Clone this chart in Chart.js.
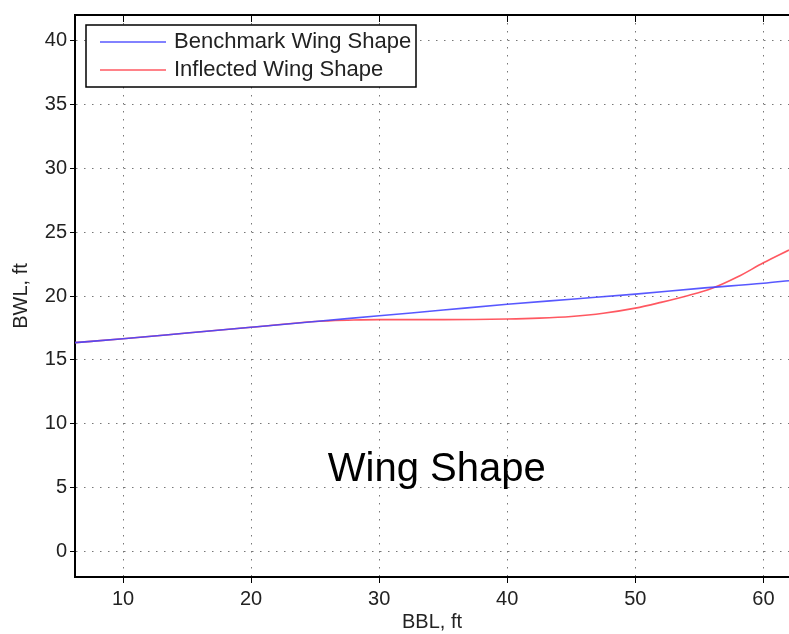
<!DOCTYPE html>
<html>
<head>
<meta charset="utf-8">
<script src="https://cdn.jsdelivr.net/npm/chart.js@4.4.1/dist/chart.umd.min.js"></script>
<style>
  html, body { margin: 0; padding: 0; background: #fff; }
  #wrap { width: 789px; height: 634px; position: relative; }
</style>
</head>
<body>
<div id="wrap"><canvas id="WingChart"></canvas></div>
<script>
// data (BBL, ft -> BWL, ft)
const benchX = [6.25, 10, 15, 20, 25, 30, 35, 40, 45, 50, 55, 60, 62];
const benchY = [16.35, 16.65, 17.1, 17.55, 18.0, 18.45, 18.9, 19.35, 19.75, 20.15, 20.6, 21.0, 21.2];

const inflX = [6.25, 10, 15, 20, 25, 26, 28, 30, 35, 40, 42.5, 45, 47.5, 50, 52, 54, 56, 58, 60, 62];
const inflY = [16.35, 16.65, 17.1, 17.55, 18.0, 18.05, 18.12, 18.15, 18.15, 18.2, 18.27, 18.4, 18.65, 19.05, 19.5, 20.0, 20.6, 21.5, 22.6, 23.6];

const xTicks = [10, 20, 30, 40, 50, 60];
const yTicks = [0, 5, 10, 15, 20, 25, 30, 35, 40];

const seriesNames = ['Benchmark Wing Shape', 'Inflected Wing Shape'];
const chartTitle = 'Wing Shape';

const toPts = (xs, ys) => xs.map((x, i) => ({ x: x, y: ys[i] }));

const font = 'Liberation Sans, Arial, sans-serif';

// top border, top ticks, legend box and the big label
const decor = {
    id: 'decor',
    afterDraw(chart) {
        const ctx = chart.ctx;
        const a = chart.chartArea;
        const xs = chart.scales.x;
        ctx.save();
        ctx.strokeStyle = '#000';
        ctx.lineWidth = 2;
        ctx.beginPath();
        ctx.moveTo(a.left, a.top);
        ctx.lineTo(a.right, a.top);
        ctx.stroke();
        ctx.lineWidth = 1;
        xTicks.forEach(v => {
            const px = Math.round(xs.getPixelForValue(v)) + 0.5;
            ctx.beginPath();
            ctx.moveTo(px, a.top);
            ctx.lineTo(px, a.top + 7);
            ctx.stroke();
        });

        // legend
        const bx = a.left + 11, by = a.top + 10, bw = 330, bh = 62;
        ctx.fillStyle = '#fff';
        ctx.fillRect(bx, by, bw, bh);
        ctx.strokeStyle = '#000';
        ctx.lineWidth = 1.5;
        ctx.strokeRect(bx, by, bw, bh);
        ctx.font = '22px ' + font;
        ctx.textBaseline = 'middle';
        chart.data.datasets.forEach((ds, i) => {
            const ly = by + 17 + i * 28;
            ctx.strokeStyle = ds.borderColor;
            ctx.lineWidth = 1.5;
            ctx.beginPath();
            ctx.moveTo(bx + 14, ly);
            ctx.lineTo(bx + 80, ly);
            ctx.stroke();
            ctx.fillStyle = '#222';
            ctx.fillText(ds.label, bx + 88, ly);
        });

        // label in the middle of the plot
        ctx.fillStyle = '#000';
        ctx.font = '40px ' + font;
        ctx.textAlign = 'center';
        ctx.fillText(chartTitle, xs.getPixelForValue(34.5), chart.scales.y.getPixelForValue(6.4));
        ctx.restore();
    }
};

const wingdata = {
    datasets: [{
        label: seriesNames[0],
        data: toPts(benchX, benchY),
        borderColor: 'rgba(70,70,255,0.9)',
        borderWidth: 1.6,
        pointRadius: 0,
        showLine: true,
        cubicInterpolationMode: 'monotone'
    }, {
        label: seriesNames[1],
        data: toPts(inflX, inflY),
        borderColor: 'rgba(255,70,80,0.9)',
        borderWidth: 1.6,
        pointRadius: 0,
        showLine: true,
        cubicInterpolationMode: 'monotone'
    }]
};

const wingconfig = {
    type: 'scatter',
    data: wingdata,
    plugins: [decor],
    options: {
        animation: false,
        responsive: true,
        maintainAspectRatio: false,
        layout: { padding: { top: 11, right: 0, left: 0, bottom: 0 } },
        plugins: {
            legend: { display: false },
            tooltip: { enabled: false }
        },
        scales: {
            x: {
                type: 'linear',
                min: 6.25,
                max: 62,
                afterBuildTicks: s => { s.ticks = xTicks.map(v => ({ value: v })); },
                afterFit: s => { s.height = 57; },
                grid: {
                    color: '#777',
                    lineWidth: 1,
                    tickColor: '#000',
                    tickLength: 6
                },
                border: { display: true, color: '#000', width: 2, dash: [1.5, 6.5] },
                ticks: { color: '#222', font: { family: font, size: 20 }, padding: 4, maxRotation: 0 },
                title: { display: true, text: 'BBL, ft', color: '#222', font: { family: font, size: 20 }, padding: { top: 0, bottom: 0 } }
            },
            y: {
                type: 'linear',
                min: -2,
                max: 42,
                afterBuildTicks: s => { s.ticks = yTicks.map(v => ({ value: v })); },
                afterFit: s => { s.width = 75; },
                grid: {
                    color: '#777',
                    lineWidth: 1,
                    tickColor: '#000',
                    tickLength: 5
                },
                border: { display: true, color: '#000', width: 2, dash: [1.5, 6.5] },
                ticks: { color: '#222', font: { family: font, size: 20 }, padding: 3 },
                title: { display: true, text: 'BWL, ft', color: '#222', font: { family: font, size: 20 }, padding: { top: 9, bottom: 0 } }
            }
        }
    }
};

new Chart(document.getElementById('WingChart'), wingconfig);
</script>
</body>
</html>
